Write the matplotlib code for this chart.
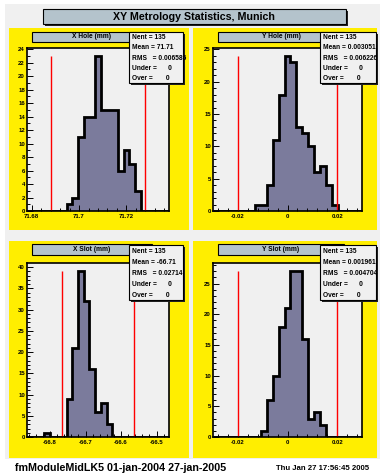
import matplotlib
matplotlib.use('Agg')
import matplotlib.pyplot as plt
import matplotlib.patches as mpatches
import numpy as np

plt.rcParams['font.family'] = ['Liberation Sans', 'DejaVu Sans']
plt.rcParams['font.weight'] = 'bold'

W, H = 380, 475

# bin contents, 25 bins per histogram
x_hole_counts = [0, 0, 0, 0, 0, 0, 0, 1, 2, 11, 14, 14, 23, 15, 15, 15, 6, 9, 7, 3, 0, 0, 0, 0, 0]
y_hole_counts = [0, 0, 0, 0, 0, 0, 0, 1, 1, 4, 11, 18, 24, 23, 13, 12, 10, 6, 7, 4, 1, 0, 0, 0, 0]
x_slot_counts = [0, 0, 0, 1, 0, 0, 0, 9, 21, 39, 32, 16, 6, 8, 3, 0, 0, 0, 0, 0, 0, 0, 0, 0, 0]
y_slot_counts = [0, 0, 0, 0, 0, 0, 0, 0, 1, 6, 10, 18, 21, 27, 27, 16, 3, 4, 2, 0, 0, 0, 0, 0, 0]

# histogram ranges
x_hole_range = (71.678, 71.738)
y_hole_range = (-0.03, 0.03)
x_slot_range = (-66.865, -66.465)
y_slot_range = (-0.03, 0.03)

# tolerance limits (red lines)
x_hole_limits = [71.688, 71.728]
y_hole_limits = [-0.02, 0.02]
x_slot_limits = [-66.765, -66.565]
y_slot_limits = [-0.02, 0.02]

# axis ticks
x_hole_xticks = [71.68, 71.70, 71.72]
x_hole_xlabels = ['71.68', '71.7', '71.72']
y_hole_xticks = [-0.02, 0.0, 0.02]
y_hole_xlabels = ['-0.02', '0', '0.02']
x_slot_xticks = [-66.8, -66.7, -66.6, -66.5]
x_slot_xlabels = ['-66.8', '-66.7', '-66.6', '-66.5']
y_slot_xticks = [-0.02, 0.0, 0.02]
y_slot_xlabels = ['-0.02', '0', '0.02']

titles = ['X Hole (mm)', 'Y Hole (mm)', 'X Slot (mm)', 'Y Slot (mm)']
stat_labels = ['Nent = ', 'Mean = ', 'RMS   = ', 'Under =      ', 'Over =       ']
x_hole_stats = ['135', '71.71', '0.006586', '0', '0']
y_hole_stats = ['135', '0.003051', '0.006226', '0', '0']
x_slot_stats = ['135', '-66.71', '0.02714', '0', '0']
y_slot_stats = ['135', '0.001961', '0.004704', '0', '0']

YELLOW = '#ffee00'
GRAY = '#f0f0f0'
BOXBLUE = '#b4c3cc'
HISTFILL = '#7b7b9c'


def frac(x0, y0, x1, y1):
    return [x0 / W, 1 - y1 / H, (x1 - x0) / W, (y1 - y0) / H]


fig = plt.figure(figsize=(W / 100, H / 100), dpi=100)
fig.patch.set_facecolor('white')

bg = fig.add_axes([0, 0, 1, 1], zorder=-5)
bg.set_xlim(0, W)
bg.set_ylim(H, 0)
bg.axis('off')

fg = fig.add_axes([0, 0, 1, 1], zorder=5)
fg.set_xlim(0, W)
fg.set_ylim(H, 0)
fg.axis('off')
fg.patch.set_alpha(0)


def box(ax, x0, y0, x1, y1, fc, shadow=2, lw=0.8):
    if shadow:
        ax.add_patch(mpatches.Rectangle((x0 + shadow, y0 + shadow), x1 - x0, y1 - y0,
                                        fc='#222222', ec='none'))
    ax.add_patch(mpatches.Rectangle((x0, y0), x1 - x0, y1 - y0, fc=fc, ec='black', lw=lw))


# canvas and pads
bg.add_patch(mpatches.Rectangle((5, 4), W - 5, 455, fc=GRAY, ec='none'))
pads = [(9, 28, 189, 230), (193, 28, 377, 230), (9, 241, 189, 458), (193, 241, 377, 458)]
for p in pads:
    bg.add_patch(mpatches.Rectangle((p[0], p[1]), p[2] - p[0], p[3] - p[1], fc=YELLOW, ec='none'))

# main title
box(fg, 43, 9, 346, 24, BOXBLUE)
fg.text(194, 16.5, 'XY Metrology Statistics, Munich', fontsize=7.7, ha='center', va='center')

axes_px = [(27, 48, 169, 211), (213, 48, 362, 211), (27, 263, 169, 437), (213, 263, 362, 437)]
counts_all = [x_hole_counts, y_hole_counts, x_slot_counts, y_slot_counts]
ranges = [x_hole_range, y_hole_range, x_slot_range, y_slot_range]
limits = [x_hole_limits, y_hole_limits, x_slot_limits, y_slot_limits]
xticks = [x_hole_xticks, y_hole_xticks, x_slot_xticks, y_slot_xticks]
xlabels = [x_hole_xlabels, y_hole_xlabels, x_slot_xlabels, y_slot_xlabels]
stats = [x_hole_stats, y_hole_stats, x_slot_stats, y_slot_stats]
ystep = [2, 5, 5, 5]
xminor = [0.004, 0.004, 0.02, 0.004]
title_px = [(32, 32, 152, 42), (218, 32, 344, 42), (32, 244, 152, 255), (218, 244, 344, 255)]
stats_px = [(129, 32, 183, 83), (320, 32, 376, 83), (129, 245, 183, 300), (320, 245, 376, 300)]

for i in range(4):
    ax = fig.add_axes(frac(*axes_px[i]))
    ax.set_facecolor(GRAY)
    counts = np.array(counts_all[i])
    edges = np.linspace(ranges[i][0], ranges[i][1], len(counts) + 1)
    ax.stairs(counts, edges, fill=True, color=HISTFILL)
    ax.stairs(counts, edges, color='black', lw=2)
    top = counts.max()
    ax.vlines(limits[i], 0, top, color='red', lw=1)
    ax.set_xticks(xticks[i])
    ax.set_xticklabels(xlabels[i])
    ax.set_xticks(np.arange(xticks[i][0] - 5 * xminor[i], ranges[i][1], xminor[i]), minor=True)
    ax.set_yticks(np.arange(0, top * 1.05, ystep[i]))
    ax.set_yticks(np.arange(0, top * 1.05, 1), minor=True)
    ax.set_xlim(*ranges[i])
    ax.set_ylim(0, top * 1.05)
    ax.tick_params(which='both', direction='in', top=False, right=False, width=0.7, labelsize=4.3)
    ax.tick_params(which='major', length=4)
    ax.tick_params(which='minor', length=2)
    ax.tick_params(axis='x', pad=2.5)
    ax.tick_params(axis='y', pad=1.5)
    for s in ax.spines.values():
        s.set_linewidth(1.2)

    # pad title
    tx0, ty0, tx1, ty1 = title_px[i]
    box(fg, tx0, ty0, tx1, ty1, BOXBLUE, shadow=1)
    fg.text((tx0 + tx1) / 2, (ty0 + ty1) / 2, titles[i], fontsize=4.8, ha='center', va='center')

    # statistics box
    sx0, sy0, sx1, sy1 = stats_px[i]
    box(fg, sx0, sy0, sx1, sy1, GRAY, shadow=2)
    rh = (sy1 - sy0) / 5
    for j in range(5):
        fg.text(sx0 + 3, sy0 + (j + 0.55) * rh, stat_labels[j] + stats[i][j],
                fontsize=4.8, ha='left', va='center')

fg.text(15, 468, 'fmModuleMidLK5 01-jan-2004 27-jan-2005', fontsize=7.7, ha='left', va='center')
fg.text(276, 469, 'Thu Jan 27 17:56:45 2005', fontsize=5.6, ha='left', va='center')

fig.savefig('out.png', dpi=100)
